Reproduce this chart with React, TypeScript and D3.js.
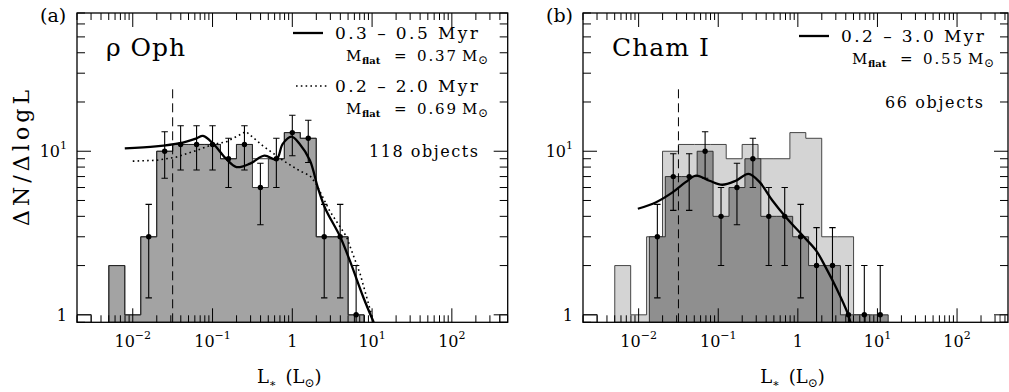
import * as d3 from "d3";

const FONT = "DejaVu Serif";
const W = 1009;
const H = 392;
const TOP = 13;
const BOTTOM = 322.3;

// axis ranges (log L in L_sun, dN/dlogL)
const L_MIN = 0.002;
const N_MIN = 0.9;
const N_MAX = 70;

const xTickValues = [0.01, 0.1, 1, 10, 100];
const xTickExps = ["\u22122", "\u22121", "", "1", "2"];
const yTickValues = [1, 10];
const yTickExps = ["", "1"];

// rho Oph histogram, 0.2 dex bins (centres in log L)
const ophBins = [-2.2, -2.0, -1.8, -1.6, -1.4, -1.2, -1.0, -0.8, -0.6, -0.4, -0.2, 0.0, 0.2, 0.4, 0.6, 0.8];
const ophAll = [2, 1, 3, 10, 11, 11, 11, 9, 11, 9, 9, 13, 12, 3, 3, 1];
const ophSample = [2, 1, 3, 10, 11, 11, 11, 9, 11, 6, 9, 13, 12, 3, 3, 1];
const ophErr = [null, null, 1.73, 3.16, 3.32, 3.32, 3.32, 3, 3.32, 2.45, 3, 3.61, 3.46, 1.73, 1.73, 1];

// Cham I histogram
const chamBins = [-1.765, -1.565, -1.365, -1.165, -0.965, -0.765, -0.565, -0.365, -0.165, 0.035, 0.235, 0.435, 0.635, 0.835, 1.035];
const chamCounts = [3, 7, 7, 10, 4, 6, 9, 4, 4, 3, 2, 2, 1, 1, 1];
const chamErr = [1.73, 2.65, 2.65, 3.16, 2, 2.45, 3, 2, 2, 1.73, 1.41, 1.41, 1, 1, 1];

// model curves
const ophSolidLogL = [-2.1, -1.71, -1.41, -1.2, -1.12, -0.99, -0.83, -0.7, -0.53, -0.35, -0.2, -0.12, -0.01, 0.09, 0.22, 0.32, 0.41, 0.6, 0.72, 0.89, 1.02];
const ophSolidN = [10.4, 10.7, 11.2, 12.0, 12.4, 11.1, 9.0, 8.0, 8.4, 9.4, 8.9, 11.1, 12.3, 11.1, 8.8, 6.0, 4.5, 3.0, 2.15, 1.28, 0.9];
const ophDotLogL = [-2.0, -1.71, -1.46, -1.2, -1.0, -0.83, -0.58, -0.37, -0.2, -0.12, 0.09, 0.22, 0.3, 0.47, 0.68, 0.85, 1.02];
const ophDotN = [8.7, 8.8, 9.2, 10.1, 11.0, 11.4, 13.2, 10.8, 9.4, 8.8, 7.6, 7.1, 6.3, 4.3, 3.0, 1.78, 0.9];
const chamSolidLogL = [-2.01, -1.78, -1.57, -1.41, -1.28, -1.11, -0.95, -0.78, -0.62, -0.48, -0.32, -0.15, 0.06, 0.23, 0.35, 0.48, 0.63, 0.66];
const chamSolidN = [4.45, 4.88, 5.62, 6.47, 7.1, 6.6, 6.24, 6.6, 7.27, 6.47, 5.0, 3.95, 3.05, 2.47, 1.95, 1.47, 1.01, 0.9];

const completenessLogL = -1.5;
const completenessTop = 25.5;

type Pt = [number, number];

type PanelSpec = {
  id: string;
  left: number;
  right: number;
  logMax: number;
  tag: string;
  name: string;
  nameLen: number;
  legend: { label: string; mflat: string; dotted: boolean; y: number }[];
  objects: string;
  objectsX: number;
  objectsY: number;
  objectsLen: number;
};

const panels: PanelSpec[] = [
  {
    id: "a",
    left: 77,
    right: 507.7,
    logMax: 2.7,
    tag: "(a)",
    name: "\u03c1 Oph",
    nameLen: 79,
    legend: [
      { label: "0.3 \u2013 0.5 Myr", mflat: "0.37", dotted: false, y: 33 },
      { label: "0.2 \u2013 2.0 Myr", mflat: "0.69", dotted: true, y: 86 },
    ],
    objects: "118 objects",
    objectsX: 292,
    objectsY: 157,
    objectsLen: 109,
  },
  {
    id: "b",
    left: 583,
    right: 1008,
    logMax: 2.64,
    tag: "(b)",
    name: "Cham I",
    nameLen: 97,
    legend: [{ label: "0.2 \u2013 3.0 Myr", mflat: "0.55", dotted: false, y: 36 }],
    objects: "66 objects",
    objectsX: 302,
    objectsY: 108,
    objectsLen: 98,
  },
];

function Panel({ spec }: { spec: PanelSpec }) {
  const x = d3.scaleLog().domain([L_MIN, 10 ** spec.logMax]).range([spec.left, spec.right]);
  const y = d3.scaleLog().domain([N_MIN, N_MAX]).range([BOTTOM, TOP]);
  const xl = (lg: number) => x(10 ** lg);
  const yc = (v: number) => y(Math.max(v, N_MIN));
  const clipId = `clip-${spec.id}`;
  const L = spec.left;

  const histPath = (centers: number[], values: number[]) => {
    const pts: Pt[] = [];
    centers.forEach((c, i) => {
      pts.push([xl(c - 0.1), yc(values[i])]);
      pts.push([xl(c + 0.1), yc(values[i])]);
    });
    const all: Pt[] = [[pts[0][0], BOTTOM], ...pts, [pts[pts.length - 1][0], BOTTOM]];
    return d3.line()(all) as string;
  };

  const curve = (logL: number[], n: number[], smooth: boolean) =>
    d3
      .line<number>()
      .x((d) => xl(d))
      .y((_d, i) => y(n[i]))
      .curve(smooth ? d3.curveCatmullRom.alpha(0.5) : d3.curveLinear)(logL) as string;

  const errBars = (centers: number[], values: number[], errs: (number | null)[]) =>
    centers.map((c, i) => {
      const e = errs[i];
      if (e == null) return null;
      const cx = xl(c);
      const hi = y(values[i] + e);
      const loV = values[i] - e;
      const lo = loV > N_MIN ? y(loV) : BOTTOM;
      return (
        <g key={i}>
          <line x1={cx} x2={cx} y1={hi} y2={lo} stroke="#000" strokeWidth={1.1} />
          <line x1={cx - 3.2} x2={cx + 3.2} y1={hi} y2={hi} stroke="#000" strokeWidth={1.1} />
          {loV > N_MIN && <line x1={cx - 3.2} x2={cx + 3.2} y1={lo} y2={lo} stroke="#000" strokeWidth={1.1} />}
          <circle cx={cx} cy={y(values[i])} r={2.7} fill="#000" />
        </g>
      );
    });

  const xTicks = x.ticks();
  const yTicks = y.ticks();
  const isMajor = (v: number) => Math.abs(Math.log10(v) - Math.round(Math.log10(v))) < 1e-6;

  const edgeBoxes: [number, number][] = [
    [Math.log10(L_MIN), -2.52],
    [spec.logMax - 0.1, spec.logMax],
  ];

  const tc = { fontFamily: FONT, fill: "#000" } as const;

  return (
    <g>
      <defs>
        <clipPath id={clipId}>
          <rect x={spec.left} y={TOP} width={spec.right - spec.left} height={BOTTOM - TOP} />
        </clipPath>
      </defs>

      <g clipPath={`url(#${clipId})`}>
        {spec.id === "a" ? (
          <>
            <path d={histPath(ophBins, ophSample) + "Z"} fill="#a3a3a3" stroke="#222" strokeWidth={0.9} />
            <path d={histPath(ophBins, ophAll)} fill="none" stroke="#222" strokeWidth={0.9} />
          </>
        ) : (
          <>
            <path d={histPath(ophBins, ophAll) + "Z"} fill="#d4d4d4" stroke="#333" strokeWidth={0.9} />
            <path d={histPath(chamBins, chamCounts) + "Z"} fill="#8f8f8f" stroke="#222" strokeWidth={0.9} />
          </>
        )}
        {edgeBoxes.map(([a, b], i) => (
          <rect key={i} x={xl(a)} y={y(1)} width={xl(b) - xl(a)} height={BOTTOM - y(1)} fill="none" stroke="#222" strokeWidth={0.9} />
        ))}

        <line
          x1={xl(completenessLogL)}
          x2={xl(completenessLogL)}
          y1={BOTTOM}
          y2={y(completenessTop)}
          stroke="#000"
          strokeWidth={1}
          strokeDasharray="9 5"
        />

        {spec.id === "a" ? (
          <>
            {errBars(ophBins, ophSample, ophErr)}
            <path d={curve(ophDotLogL, ophDotN, false)} fill="none" stroke="#000" strokeWidth={1.6} strokeDasharray="1.6 3.2" />
            <path d={curve(ophSolidLogL, ophSolidN, true)} fill="none" stroke="#000" strokeWidth={2.3} />
          </>
        ) : (
          <>
            {errBars(chamBins, chamCounts, chamErr)}
            <path d={curve(chamSolidLogL, chamSolidN, true)} fill="none" stroke="#000" strokeWidth={2.3} />
          </>
        )}
      </g>

      {/* ticks on all four sides */}
      {xTicks.map((v, i) => {
        const px = x(v);
        const len = isMajor(v) ? 14 : 7;
        return (
          <g key={`xt${i}`} stroke="#000" strokeWidth={1}>
            <line x1={px} x2={px} y1={BOTTOM} y2={BOTTOM - len} />
            <line x1={px} x2={px} y1={TOP} y2={TOP + len} />
          </g>
        );
      })}
      {yTicks.map((v, i) => {
        const py = y(v);
        const len = isMajor(v) ? 14 : 8;
        return (
          <g key={`yt${i}`} stroke="#000" strokeWidth={1}>
            <line x1={spec.left} x2={spec.left + len} y1={py} y2={py} />
            <line x1={spec.right} x2={spec.right - len} y1={py} y2={py} />
          </g>
        );
      })}
      <rect x={spec.left} y={TOP} width={spec.right - spec.left} height={BOTTOM - TOP} fill="none" stroke="#000" strokeWidth={1.3} />

      {xTickValues.map((v, i) => (
        <text key={`xl${i}`} x={x(v)} y={347} textAnchor="middle" fontSize={16} {...tc}>
          {xTickExps[i] ? "10" : "1"}
          {xTickExps[i] && (
            <tspan dy={-8} fontSize={11}>
              {xTickExps[i]}
            </tspan>
          )}
        </text>
      ))}
      {yTickValues.map((v, i) => (
        <text key={`yl${i}`} x={L - 10} y={y(v) + 6} textAnchor="end" fontSize={16} {...tc}>
          {yTickExps[i] ? "10" : "1"}
          {yTickExps[i] && (
            <tspan dy={-8} fontSize={11}>
              {yTickExps[i]}
            </tspan>
          )}
        </text>
      ))}

      <text x={(spec.left + spec.right) / 2 - 3} y={383} textAnchor="middle" fontSize={18} {...tc}>
        L<tspan dy={4} fontSize={11}>{"\u2217"}</tspan>
        <tspan dy={-4}>{"\u2002(L"}</tspan>
        <tspan dy={4} fontSize={12}>{"\u2299"}</tspan>
        <tspan dy={-4}>)</tspan>
      </text>

      <text x={L - 37} y={22} fontSize={19} {...tc}>
        {spec.tag}
      </text>
      <text x={L + 29} y={56} fontSize={25} textLength={spec.nameLen} lengthAdjust="spacing" {...tc}>
        {spec.name}
      </text>

      {spec.legend.map((row, i) => (
        <g key={`lg${i}`}>
          {row.dotted ? (
            <line x1={L + 219} x2={L + 250} y1={row.y} y2={row.y} stroke="#000" strokeWidth={1.6} strokeDasharray="1.6 3.2" />
          ) : (
            <line x1={L + 216} x2={L + 246} y1={row.y} y2={row.y} stroke="#000" strokeWidth={2.3} />
          )}
          <text x={L + 258} y={row.y + 6} fontSize={17} textLength={143} lengthAdjust="spacing" {...tc}>
            {row.label}
          </text>
          <text x={L + 269} y={row.y + 28} fontSize={15} {...tc}>
            M
          </text>
          <text x={L + 285} y={row.y + 31} fontSize={10} fontWeight="bold" {...tc}>
            flat
          </text>
          <text x={L + 317} y={row.y + 28} fontSize={15} {...tc}>
            =
          </text>
          <text x={L + 340} y={row.y + 28} fontSize={15} textLength={39} lengthAdjust="spacing" {...tc}>
            {row.mflat}
          </text>
          <text x={L + 385} y={row.y + 28} fontSize={15} {...tc}>
            M
          </text>
          <text x={L + 401} y={row.y + 31} fontSize={12} {...tc}>
            {"\u2299"}
          </text>
        </g>
      ))}
      <text x={L + spec.objectsX} y={spec.objectsY} fontSize={16} textLength={spec.objectsLen} lengthAdjust="spacing" {...tc}>
        {spec.objects}
      </text>
    </g>
  );
}

export default function App() {
  return (
    <svg
      width={W}
      height={H}
      viewBox={`0 0 ${W} ${H}`}
      style={{ position: "absolute", left: 0, top: 0, background: "#fff" }}
    >
      <rect width={W} height={H} fill="#fff" />
      {panels.map((p) => (
        <Panel key={p.id} spec={p} />
      ))}
      <text transform="translate(29,158) rotate(-90)" textAnchor="middle" fontSize={22} fontFamily={FONT} textLength={136} lengthAdjust="spacing">
        {"\u0394N/\u0394logL"}
      </text>
    </svg>
  );
}
